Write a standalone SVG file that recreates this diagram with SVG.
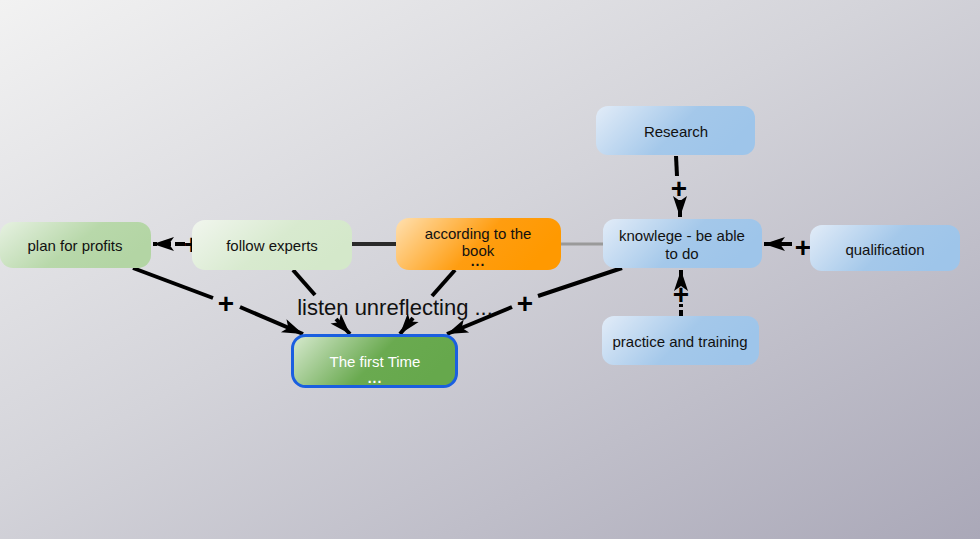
<svg xmlns="http://www.w3.org/2000/svg" width="980" height="539" viewBox="0 0 980 539">
<defs>
<linearGradient id="bg" x1="0" y1="0" x2="1" y2="1">
<stop offset="0" stop-color="#f2f2f2"/>
<stop offset="0.45" stop-color="#d4d4da"/>
<stop offset="1" stop-color="#aaa8b8"/>
</linearGradient>
<linearGradient id="gGreenL" x1="0" y1="0" x2="1" y2="0.4">
<stop offset="0" stop-color="#e6f1e1"/>
<stop offset="0.6" stop-color="#b8d8aa"/>
<stop offset="1" stop-color="#b3d5a4"/>
</linearGradient>
<linearGradient id="gGreenXL" x1="0" y1="0" x2="1" y2="0.4">
<stop offset="0" stop-color="#f1f6ee"/>
<stop offset="0.6" stop-color="#d8eacf"/>
<stop offset="1" stop-color="#d4e8ca"/>
</linearGradient>
<linearGradient id="gOrange" x1="0" y1="0" x2="1" y2="0.3">
<stop offset="0" stop-color="#ffe0b0"/>
<stop offset="0.6" stop-color="#ff9d10"/>
<stop offset="1" stop-color="#ff9900"/>
</linearGradient>
<linearGradient id="gBlue" x1="0" y1="0" x2="1" y2="0.3">
<stop offset="0" stop-color="#e2ecf8"/>
<stop offset="0.6" stop-color="#a4c8ea"/>
<stop offset="1" stop-color="#9ec5ea"/>
</linearGradient>
<linearGradient id="gFirst" x1="0" y1="0" x2="1" y2="0.3">
<stop offset="0" stop-color="#d8ead0"/>
<stop offset="0.6" stop-color="#6aaa50"/>
<stop offset="1" stop-color="#66a84c"/>
</linearGradient>
<marker id="ah" markerUnits="userSpaceOnUse" markerWidth="24" markerHeight="18" refX="21" refY="9" orient="auto">
<path d="M0,2 L21,9 L0,16 L5,9 z" fill="#000"/>
</marker>
</defs>
<style>
.node text{font-family:"Liberation Sans",Arial,sans-serif;font-size:15px;fill:#111;text-anchor:middle}
.node text.dots{font-size:14px;font-weight:bold;letter-spacing:1px}
.plus{font-family:"Liberation Sans",Arial,sans-serif;font-size:28px;font-weight:bold;fill:#000;text-anchor:middle}
.ln{stroke:#000;stroke-width:4;fill:none}
</style>
<rect width="980" height="539" fill="url(#bg)"/>
<g id="connectors">
<line x1="352" y1="244" x2="396" y2="244" stroke="#2a2a2a" stroke-width="4"/>
<line x1="561" y1="244" x2="603" y2="244" stroke="#9a9a9a" stroke-width="3"/>
<line class="ln" x1="185" y1="244" x2="153" y2="244" stroke-dasharray="10,4" marker-end="url(#ah)"/>
<text class="plus" x="192" y="254">+</text>
<line class="ln" x1="133" y1="268" x2="213" y2="298"/>
<text class="plus" x="226" y="313">+</text>
<line class="ln" x1="240" y1="307" x2="303" y2="334" marker-end="url(#ah)"/>
<line class="ln" x1="293" y1="270" x2="315" y2="295"/>
<line class="ln" x1="336" y1="319" x2="350" y2="334" marker-end="url(#ah)"/>
<line class="ln" x1="455" y1="270" x2="432" y2="296" stroke-width="6"/>
<line class="ln" x1="413" y1="318" x2="400" y2="334" marker-end="url(#ah)"/>
<line class="ln" x1="622" y1="268" x2="538" y2="296"/>
<text class="plus" x="525" y="313">+</text>
<line class="ln" x1="512" y1="307" x2="447" y2="334" marker-end="url(#ah)"/>
<text x="395" y="315" font-family="'Liberation Sans',Arial,sans-serif" font-size="22" fill="#111" text-anchor="middle">listen unreflecting ...</text>
<line class="ln" x1="676" y1="156" x2="677" y2="176"/>
<text class="plus" x="679" y="198">+</text>
<line class="ln" x1="680" y1="200" x2="680" y2="217" stroke="none" marker-end="url(#ah)"/>
<line class="ln" x1="792" y1="244" x2="764" y2="244" marker-end="url(#ah)"/>
<text class="plus" x="803" y="257">+</text>
<line class="ln" x1="681" y1="316" x2="681" y2="304" stroke-dasharray="6,3"/>
<text class="plus" x="681" y="304">+</text>
<line class="ln" x1="681" y1="284" x2="681" y2="270" stroke="none" marker-end="url(#ah)"/>
</g>
<g id="plan" class="node">
<rect x="0" y="222" width="151" height="46" rx="13" fill="url(#gGreenL)"/>
<text x="75" y="251">plan for profits</text>
</g>
<g id="follow" class="node">
<rect x="192" y="220" width="160" height="50" rx="13" fill="url(#gGreenXL)"/>
<text x="272" y="251">follow experts</text>
</g>
<g id="book" class="node">
<rect x="396" y="218" width="165" height="52" rx="13" fill="url(#gOrange)"/>
<text x="478" y="239">according to the</text>
<text x="478" y="256">book</text>
<text class="dots" x="478" y="266">...</text>
</g>
<g id="knowlege" class="node">
<rect x="603" y="219" width="159" height="49" rx="12" fill="url(#gBlue)"/>
<text x="682" y="241">knowlege - be able</text>
<text x="682" y="259">to do</text>
</g>
<g id="research" class="node">
<rect x="596" y="106" width="159" height="49" rx="12" fill="url(#gBlue)"/>
<text x="676" y="137">Research</text>
</g>
<g id="qualification" class="node">
<rect x="810" y="225" width="150" height="46" rx="12" fill="url(#gBlue)"/>
<text x="885" y="255">qualification</text>
</g>
<g id="practice" class="node">
<rect x="602" y="316" width="157" height="49" rx="12" fill="url(#gBlue)"/>
<text x="680" y="347">practice and training</text>
</g>
<g id="firsttime" class="node">
<rect x="292.5" y="335.5" width="164" height="51" rx="13" fill="url(#gFirst)" stroke="#1a5fe0" stroke-width="3"/>
<text x="375" y="367" style="fill:#fff">The first Time</text>
<text class="dots" x="375" y="383" style="fill:#fff">...</text>
</g>
</svg>
